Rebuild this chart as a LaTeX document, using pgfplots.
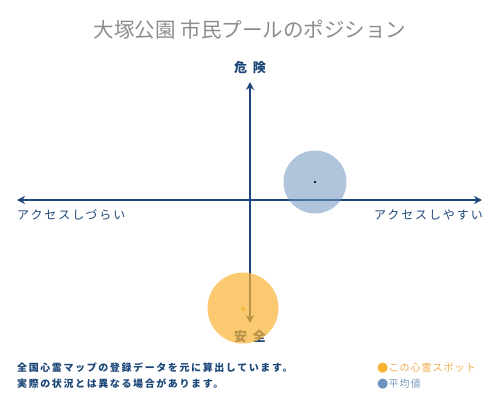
\documentclass[border=0pt]{standalone}
\usepackage{pgfplots}
\pgfplotsset{compat=1.18}
\usepackage{fontspec}
\newfontfamily\cjk{Noto Sans CJK JP}
\newfontfamily\sym{DejaVu Sans}
\usetikzlibrary{arrows.meta}
\definecolor{navy}{RGB}{28,70,120}
\definecolor{titlegray}{RGB}{140,140,140}
\definecolor{spotorange}{RGB}{249,178,51}
\definecolor{avgblue}{RGB}{111,147,190}
\definecolor{legorange}{RGB}{240,170,70}
\definecolor{legblue}{RGB}{120,152,190}

\begin{document}
\begin{tikzpicture}[x=1pt,y=1pt]
\useasboundingbox (0,0) rectangle (500,400);
% title and labels
\node[titlegray, font=\cjk\fontsize{20.5}{20.5}\selectfont] at (250,370) {大塚公園 市民プールのポジション};
\node[navy, font=\cjk\bfseries\fontsize{13}{13}\selectfont] at (250,332) {危\hspace{6pt}険};
\node[navy, font=\cjk\bfseries\fontsize{13}{13}\selectfont] at (250,63) {安\hspace{6pt}全};
\node[navy, anchor=west, inner sep=0pt, font=\cjk\fontsize{12}{12}\selectfont\addfontfeatures{LetterSpace=16}] at (17,185) {アクセスしづらい};
\node[navy, anchor=east, inner sep=0pt, font=\cjk\fontsize{12}{12}\selectfont\addfontfeatures{LetterSpace=16}] at (483,185) {アクセスしやすい};
% footnote
\node[navy, anchor=west, inner sep=0pt, font=\cjk\bfseries\fontsize{10}{10}\selectfont\addfontfeatures{LetterSpace=16}] at (17,32) {全国心霊マップの登録データを元に算出しています。};
\node[navy, anchor=west, inner sep=0pt, font=\cjk\bfseries\fontsize{10}{10}\selectfont\addfontfeatures{LetterSpace=16}] at (17,16) {実際の状況とは異なる場合があります。};
% legend
\node[anchor=west, inner sep=0pt] at (377,32) {\sym\fontsize{13}{13}\selectfont\textcolor{spotorange}{●}\cjk\fontsize{10}{10}\selectfont\addfontfeatures{LetterSpace=10}\textcolor{legorange}{この心霊スポット}};
\node[anchor=west, inner sep=0pt] at (377,16) {\sym\fontsize{13}{13}\selectfont\textcolor{avgblue}{●}\cjk\fontsize{10}{10}\selectfont\addfontfeatures{LetterSpace=10}\textcolor{legblue}{平均値}};

\begin{axis}[
  at={(17pt,77pt)}, anchor=south west,
  scale only axis, width=465pt, height=241pt,
  xmin=-233, xmax=232, ymin=-123, ymax=118,
  hide axis, clip=false,
]
\draw[navy, line width=2pt, {Stealth[length=8pt,width=8pt]}-{Stealth[length=8pt,width=8pt]}] (axis cs:-233,0) -- (axis cs:232,0);
\draw[navy, line width=2pt, {Stealth[length=8pt,width=8pt]}-{Stealth[length=8pt,width=8pt]}] (axis cs:0,-123) -- (axis cs:0,118);
% average
\addplot[only marks, mark=*, mark size=31.5pt,
  mark options={draw opacity=0, line width=0pt, fill=avgblue, fill opacity=0.55}] coordinates {(65,18)};
\addplot[only marks, mark=*, mark size=0.8pt, black] coordinates {(65,18)};
% this spot
\addplot[only marks, mark=*, mark size=35.5pt,
  mark options={draw opacity=0, line width=0pt, fill=spotorange, fill opacity=0.7}] coordinates {(-7,-108)};
\addplot[only marks, mark=diamond*, mark size=2pt, color=spotorange] coordinates {(-7,-109)};
\end{axis}
\end{tikzpicture}
\end{document}
